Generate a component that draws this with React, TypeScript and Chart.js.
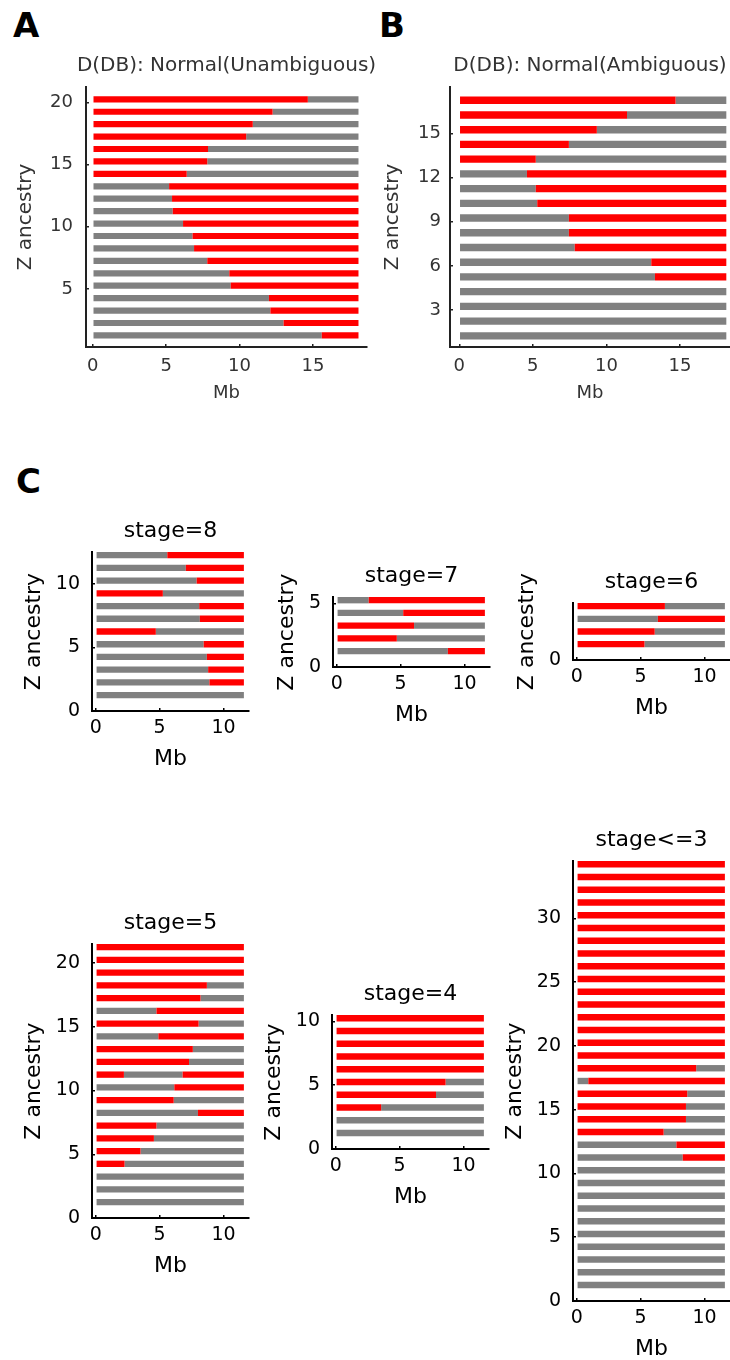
import React, { useEffect, useRef } from 'react';
import { Chart, registerables } from 'chart.js';

Chart.register(...registerables);

// ---------------- DATA (rows listed bottom = row 1 upward) ----------------
// first colour of each row ('R' red = Z ancestry, 'G' grey), and the Mb positions where colour switches

// Panel A: D(DB): Normal(Unambiguous)
const aLength = 18.1;
const aFirst = ['G', 'G', 'G', 'G', 'G', 'G', 'G', 'G', 'G', 'G', 'G', 'G', 'G', 'R', 'R', 'R', 'R', 'R', 'R', 'R'];
const aSwitch: number[][] = [[15.6], [13.0], [12.1], [12.0], [9.4], [9.3], [7.8], [6.9], [6.8], [6.15], [5.45], [5.4], [5.2], [6.4], [7.8], [7.85], [10.45], [10.9], [12.25], [14.65]];
const aXTicks = [0, 5, 10, 15];
const aYTicks = [5, 10, 15, 20];

// Panel B: D(DB): Normal(Ambiguous)
const bLength = 18.15;
const bFirst = ['G', 'G', 'G', 'G', 'G', 'G', 'G', 'G', 'G', 'G', 'G', 'G', 'R', 'R', 'R', 'R', 'R'];
const bSwitch: number[][] = [[], [], [], [], [13.3], [13.05], [7.85], [7.45], [7.45], [5.3], [5.2], [4.6], [5.2], [7.45], [9.35], [11.4], [14.7]];
const bXTicks = [0, 5, 10, 15];
const bYTicks = [3, 6, 9, 12, 15];

// Panel C sub-plots
const cLength = 11.6;
const cXTicks = [0, 5, 10];

const s8First = ['G', 'G', 'G', 'G', 'G', 'R', 'G', 'G', 'R', 'G', 'G', 'G'];
const s8Switch: number[][] = [[], [8.9], [8.8], [8.7], [8.45], [4.7], [8.15], [8.1], [5.25], [7.9], [7.05], [5.6]];
const s8YTicks = [0, 5, 10];

const s7First = ['G', 'R', 'R', 'G', 'G'];
const s7Switch: number[][] = [[8.7], [4.7], [6.05], [5.2], [2.5]];
const s7YTicks = [0, 5];

const s6First = ['R', 'R', 'G', 'R'];
const s6Switch: number[][] = [[5.3], [6.1], [6.35], [6.9]];
const s6YTicks = [0];

const s5First = ['G', 'G', 'G', 'R', 'R', 'R', 'R', 'G', 'R', 'G', 'R', 'R', 'R', 'G', 'R', 'G', 'R', 'R', 'R', 'R', 'R'];
const s5Switch: number[][] = [[], [], [], [2.25], [3.5], [4.55], [4.75], [8.0], [6.1], [6.15], [2.2, 6.8], [7.3], [7.6], [4.9], [8.05], [4.75], [8.2], [8.7], [], [], []];
const s5YTicks = [0, 5, 10, 15, 20];

const s4First = ['G', 'G', 'R', 'R', 'R', 'R', 'R', 'R', 'R', 'R'];
const s4Switch: number[][] = [[], [], [3.55], [7.85], [8.6], [], [], [], [], []];
const s4YTicks = [0, 5, 10];

const s3First = ['G', 'G', 'G', 'G', 'G', 'G', 'G', 'G', 'G', 'G', 'G', 'G', 'R', 'R', 'R', 'R', 'G', 'R', 'R', 'R', 'R', 'R', 'R', 'R', 'R', 'R', 'R', 'R', 'R', 'R', 'R', 'R', 'R', 'R'];
const s3Switch: number[][] = [[], [], [], [], [], [], [], [], [], [], [8.3], [7.8], [6.8], [8.55], [8.55], [8.65], [0.9], [9.35], [], [], [], [], [], [], [], [], [], [], [], [], [], [], [], []];
const s3YTicks = [0, 5, 10, 15, 20, 25, 30];

// ---------------- STYLE / LAYOUT ----------------
const RED = '#ff0000';
const GREY = '#808080';
const BAR_OFFSET = 0.25; // bars occupy [row, row + 0.5]
const FAMILY = '"DejaVu Sans", sans-serif';

interface Style {
  tickSize: number; xLabelSize: number; yLabelSize: number; titleSize: number;
  textColor: string; axisColor: string; axisWidth: number;
  xTickPad: number; xH: number; padTop: number; titleGap: number;
}

const styleAB: Style = {
  tickSize: 18, xLabelSize: 18, yLabelSize: 20, titleSize: 20,
  textColor: '#333333', axisColor: '#222222', axisWidth: 2,
  xTickPad: 12, xH: 57, padTop: 45, titleGap: 21.5,
};
const styleC: Style = {
  tickSize: 19, xLabelSize: 22, yLabelSize: 22, titleSize: 22,
  textColor: '#000000', axisColor: '#000000', axisWidth: 2,
  xTickPad: 9, xH: 61, padTop: 40, titleGap: 21,
};

interface Area { left: number; top: number; right: number; bottom: number; }
interface PanelSpec {
  title: string;
  first: string[];
  switches: number[][];
  length: number;
  xTicks: number[];
  yTicks: number[];
  xRange: [number, number];
  yRange: [number, number];
  area: Area;
  style: Style;
  yW: number;
  yTickPad: number;
  padRight: number;
}

const panels: PanelSpec[] = [
  { title: 'D(DB): Normal(Unambiguous)', first: aFirst, switches: aSwitch, length: aLength, xTicks: aXTicks, yTicks: aYTicks,
    xRange: [-0.46, 18.68], yRange: [0.32, 21.24], area: { left: 86, top: 87, right: 367, bottom: 347 },
    style: styleAB, yW: 72, yTickPad: 16, padRight: 13 },
  { title: 'D(DB): Normal(Ambiguous)', first: bFirst, switches: bSwitch, length: bLength, xTicks: bXTicks, yTicks: bYTicks,
    xRange: [-0.63, 18.4], yRange: [0.49, 18.15], area: { left: 450, top: 87, right: 730, bottom: 347 },
    style: styleAB, yW: 69, yTickPad: 12, padRight: 0 },
  { title: 'stage=8', first: s8First, switches: s8Switch, length: cLength, xTicks: cXTicks, yTicks: s8YTicks,
    xRange: [-0.3, 12], yRange: [0, 12.5], area: { left: 92, top: 552, right: 249, bottom: 711 },
    style: styleC, yW: 71, yTickPad: 15, padRight: 8 },
  { title: 'stage=7', first: s7First, switches: s7Switch, length: cLength, xTicks: cXTicks, yTicks: s7YTicks,
    xRange: [-0.3, 12], yRange: [0, 5.5], area: { left: 333, top: 597, right: 490, bottom: 667 },
    style: styleC, yW: 59, yTickPad: 15, padRight: 8 },
  { title: 'stage=6', first: s6First, switches: s6Switch, length: cLength, xTicks: cXTicks, yTicks: s6YTicks,
    xRange: [-0.3, 12], yRange: [0, 4.5], area: { left: 573, top: 603, right: 730, bottom: 660 },
    style: styleC, yW: 59, yTickPad: 15, padRight: 0 },
  { title: 'stage=5', first: s5First, switches: s5Switch, length: cLength, xTicks: cXTicks, yTicks: s5YTicks,
    xRange: [-0.3, 12], yRange: [0, 21.5], area: { left: 92, top: 944, right: 249, bottom: 1218 },
    style: styleC, yW: 71, yTickPad: 15, padRight: 8 },
  { title: 'stage=4', first: s4First, switches: s4Switch, length: cLength, xTicks: cXTicks, yTicks: s4YTicks,
    xRange: [-0.3, 12], yRange: [0, 10.5], area: { left: 332, top: 1015, right: 489, bottom: 1149 },
    style: styleC, yW: 71, yTickPad: 15, padRight: 8 },
  { title: 'stage<=3', first: s3First, switches: s3Switch, length: cLength, xTicks: cXTicks, yTicks: s3YTicks,
    xRange: [-0.3, 12], yRange: [0, 34.5], area: { left: 573, top: 861, right: 730, bottom: 1301 },
    style: styleC, yW: 71, yTickPad: 15, padRight: 0 },
];

type Pt = { x: [number, number]; y: number };

function buildSegments(first: string[], switches: number[][], length: number) {
  const red: Pt[] = [];
  const grey: Pt[] = [];
  first.forEach((f, i) => {
    let colour = f;
    let start = 0;
    const ends = [...switches[i], length];
    for (const end of ends) {
      (colour === 'R' ? red : grey).push({ x: [start, end], y: i + 1 + BAR_OFFSET });
      colour = colour === 'R' ? 'G' : 'R';
      start = end;
    }
  });
  return { red, grey };
}

function makeConfig(p: PanelSpec): any {
  const st = p.style;
  const { red, grey } = buildSegments(p.first, p.switches, p.length);
  const barCommon = { grouped: false, categoryPercentage: 1, barPercentage: 0.5, borderWidth: 0 };
  const titlePlugin = {
    id: 'panelTitle',
    afterDraw(chart: any) {
      const { ctx, chartArea } = chart;
      ctx.save();
      ctx.font = `${st.titleSize}px ${FAMILY}`;
      ctx.fillStyle = st.textColor;
      ctx.textAlign = 'center';
      ctx.textBaseline = 'middle';
      ctx.fillText(p.title, (chartArea.left + chartArea.right) / 2, chartArea.top - st.titleGap);
      ctx.restore();
    },
  };
  return {
    type: 'bar',
    data: {
      datasets: [
        { label: 'Z', data: red, backgroundColor: RED, ...barCommon },
        { label: 'other', data: grey, backgroundColor: GREY, ...barCommon },
      ],
    },
    options: {
      indexAxis: 'y',
      responsive: false,
      animation: false,
      events: [],
      layout: { padding: { left: 0, top: st.padTop, right: p.padRight, bottom: 0 } },
      plugins: { legend: { display: false }, tooltip: { enabled: false }, title: { display: false } },
      scales: {
        x: {
          type: 'linear',
          position: 'bottom',
          min: p.xRange[0],
          max: p.xRange[1],
          offset: false,
          afterBuildTicks: (s: any) => { s.ticks = p.xTicks.map((v) => ({ value: v })); },
          afterFit: (s: any) => { s.height = st.xH; },
          border: { display: true, color: st.axisColor, width: st.axisWidth },
          grid: { display: true, offset: false, drawOnChartArea: false, drawTicks: true, tickLength: -3, lineWidth: 1.5, color: st.axisColor },
          ticks: { font: { family: FAMILY, size: st.tickSize }, color: st.textColor, padding: st.xTickPad, maxRotation: 0, autoSkip: false },
          title: { display: true, text: 'Mb', font: { family: FAMILY, size: st.xLabelSize }, color: st.textColor, padding: 0 },
        },
        y: {
          type: 'linear',
          position: 'left',
          min: p.yRange[0],
          max: p.yRange[1],
          offset: false,
          afterBuildTicks: (s: any) => { s.ticks = p.yTicks.map((v) => ({ value: v })); },
          afterFit: (s: any) => { s.width = p.yW; },
          border: { display: true, color: st.axisColor, width: st.axisWidth },
          grid: { display: true, offset: false, drawOnChartArea: false, drawTicks: true, tickLength: -3, lineWidth: 1.5, color: st.axisColor },
          ticks: { font: { family: FAMILY, size: st.tickSize }, color: st.textColor, padding: p.yTickPad, autoSkip: false },
          title: { display: true, text: 'Z ancestry', font: { family: FAMILY, size: st.yLabelSize }, color: st.textColor, padding: 0 },
        },
      },
    },
    plugins: [titlePlugin],
  };
}

function Panel({ spec }: { spec: PanelSpec }) {
  const ref = useRef<HTMLCanvasElement>(null);
  const st = spec.style;
  const w = spec.yW + (spec.area.right - spec.area.left) + spec.padRight;
  const h = st.padTop + (spec.area.bottom - spec.area.top) + st.xH;
  const left = spec.area.left - spec.yW;
  const top = spec.area.top - st.padTop;
  useEffect(() => {
    if (!ref.current) return;
    const chart = new Chart(ref.current, makeConfig(spec));
    return () => chart.destroy();
  }, [spec]);
  return (
    <canvas
      ref={ref}
      width={w}
      height={h}
      style={{ position: 'absolute', left, top, width: w, height: h }}
    />
  );
}

const letterStyle: React.CSSProperties = {
  position: 'absolute',
  fontFamily: FAMILY,
  fontWeight: 'bold',
  fontSize: 34,
  lineHeight: '34px',
  color: '#000',
};

export default function App() {
  return (
    <div style={{ position: 'absolute', left: 0, top: 0, width: 730, height: 1360, overflow: 'hidden', background: '#fff' }}>
      <div style={{ ...letterStyle, left: 13, top: 8 }}>A</div>
      <div style={{ ...letterStyle, left: 379, top: 8 }}>B</div>
      <div style={{ ...letterStyle, left: 16, top: 464 }}>C</div>
      {panels.map((p, i) => (
        <Panel key={i} spec={p} />
      ))}
    </div>
  );
}
